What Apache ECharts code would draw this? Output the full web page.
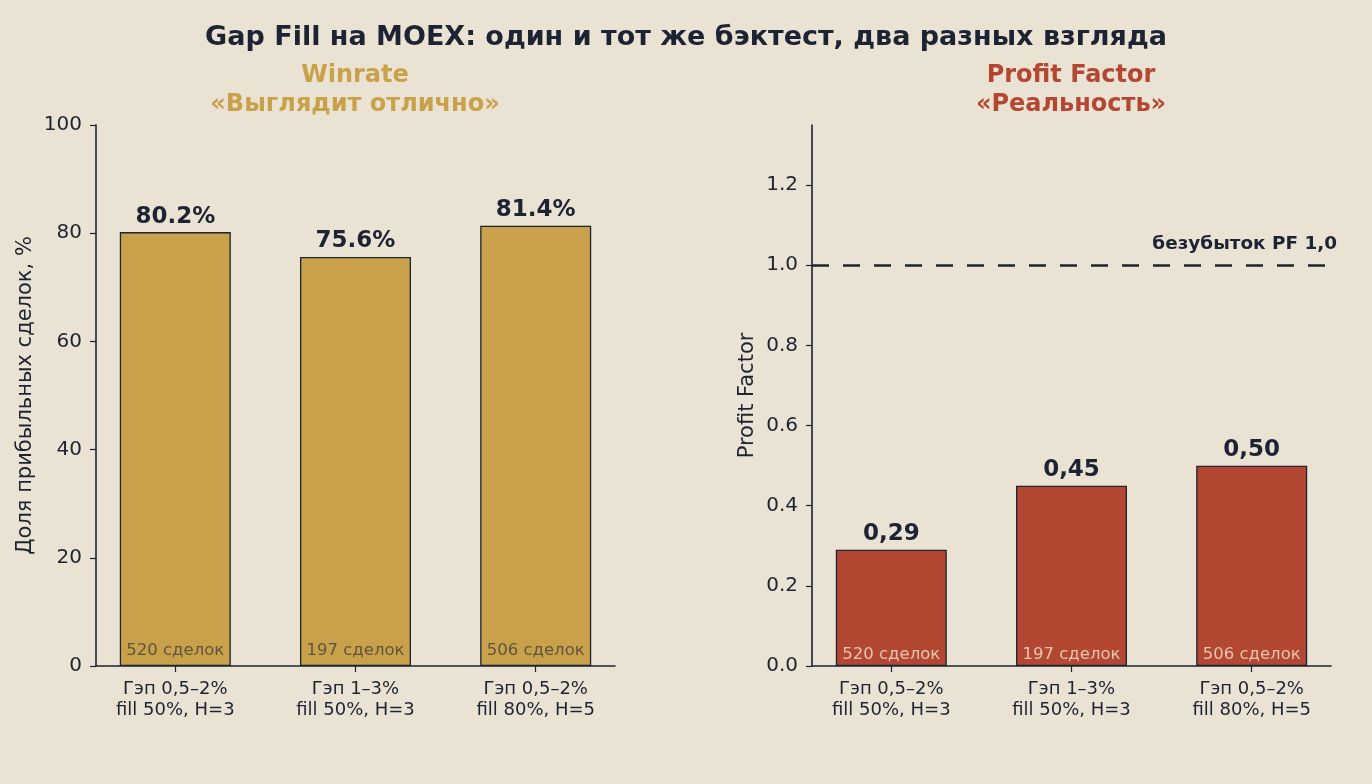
<!DOCTYPE html>
<html><head><meta charset="utf-8">
<script src="https://cdn.jsdelivr.net/npm/echarts@6/dist/echarts.min.js"></script>
<style>html,body{margin:0;padding:0;background:#EAE3D3;}#c{width:1372px;height:784px;}</style>
</head><body><div id="c"></div>
<script>
const categories = ['Гэп 0,5–2%\nfill 50%, H=3', 'Гэп 1–3%\nfill 50%, H=3', 'Гэп 0,5–2%\nfill 80%, H=5'];
const trades = [520, 197, 506];
const winrate = [80.2, 75.6, 81.4];
const profitFactor = [0.29, 0.45, 0.50];
const breakeven = 1.0;
const winrateTicks = [0, 20, 40, 60, 80, 100];
const pfTicks = [0, 0.2, 0.4, 0.6, 0.8, 1.0, 1.2];

const FONT = "'DejaVu Sans', sans-serif";
const DARK = '#1C2333';
const GOLD = '#C9A14A';
const RED = '#B34731';

const pos = categories.map((_, i) => i);

function xAxisFor(gi) {
  return {
    type: 'value', gridIndex: gi, min: -0.44, max: 2.44,
    splitLine: {show: false},
    axisLine: {show: true, onZero: false, lineStyle: {color: DARK, width: 1.6}},
    axisTick: {show: true, customValues: pos, length: 6, lineStyle: {color: DARK, width: 1.2}},
    axisLabel: {customValues: pos, formatter: v => categories[Math.round(v)] || '',
      color: DARK, fontFamily: FONT, fontSize: 18, lineHeight: 21, margin: 13}
  };
}
function yAxisFor(gi, max, ticks, name, gap, fmt) {
  return {
    type: 'value', gridIndex: gi, min: 0, max: max,
    name: name, nameLocation: 'middle', nameGap: gap, nameRotate: 90,
    nameTextStyle: {color: DARK, fontFamily: FONT, fontSize: 21},
    splitLine: {show: false},
    axisLine: {show: true, onZero: false, lineStyle: {color: DARK, width: 1.6}},
    axisTick: {show: true, customValues: ticks, length: 6, lineStyle: {color: DARK, width: 1.2}},
    axisLabel: {customValues: ticks, formatter: fmt, color: DARK, fontFamily: FONT, fontSize: 20, margin: 14,
      padding: [4, 0, 0, 0]}
  };
}

const option = {
  backgroundColor: '#EAE3D3',
  animation: false,
  title: [
    {text: 'Gap Fill на MOEX: один и тот же бэктест, два разных взгляда', left: 'center', top: 19,
      textStyle: {color: DARK, fontFamily: FONT, fontSize: 27, fontWeight: 'bold'}},
    {text: 'Winrate\n«Выглядит отлично»', left: 350, textAlign: 'center', top: 56,
      textStyle: {color: GOLD, fontFamily: FONT, fontSize: 24, fontWeight: 'bold', lineHeight: 29, align: 'center'}},
    {text: 'Profit Factor\n«Реальность»', left: 1066, textAlign: 'center', top: 56,
      textStyle: {color: RED, fontFamily: FONT, fontSize: 24, fontWeight: 'bold', lineHeight: 29, align: 'center'}}
  ],
  grid: [
    {left: 96, right: 757, top: 125, bottom: 118},
    {left: 812, right: 41, top: 125, bottom: 118}
  ],
  xAxis: [xAxisFor(0), xAxisFor(1)],
  yAxis: [
    yAxisFor(0, 100, winrateTicks, 'Доля прибыльных сделок, %', 60, v => String(v)),
    yAxisFor(1, 1.35, pfTicks, 'Profit Factor', 54, v => v.toFixed(1))
  ],
  series: [
    {
      type: 'bar', xAxisIndex: 0, yAxisIndex: 0, barWidth: 111,
      data: winrate.map((v, i) => [i, v]),
      itemStyle: {color: GOLD, borderColor: DARK, borderWidth: 1.3},
      label: {show: true, position: 'top', distance: 4, formatter: p => p.value[1].toFixed(1) + '%',
        color: DARK, fontFamily: FONT, fontSize: 23, fontWeight: 'bold'}
    },
    {
      type: 'scatter', xAxisIndex: 0, yAxisIndex: 0, symbolSize: 0, silent: true,
      data: trades.map((t, i) => [i, 0]),
      label: {show: true, position: 'top', distance: 7, formatter: p => trades[p.dataIndex] + ' сделок',
        color: '#45413A', fontFamily: FONT, fontSize: 16.5}
    },
    {
      type: 'bar', xAxisIndex: 1, yAxisIndex: 1, barWidth: 111,
      data: profitFactor.map((v, i) => [i, v]),
      itemStyle: {color: RED, borderColor: DARK, borderWidth: 1.3},
      label: {show: true, position: 'top', distance: 4, formatter: p => p.value[1].toFixed(2).replace('.', ','),
        color: DARK, fontFamily: FONT, fontSize: 23, fontWeight: 'bold'},
      markLine: {
        silent: true, symbol: 'none',
        lineStyle: {color: DARK, width: 2.6, type: [17, 14]},
        label: {show: true, position: 'insideEndTop', formatter: 'безубыток PF 1,0', distance: [-6, 12],
          color: DARK, fontFamily: FONT, fontSize: 18.4, fontWeight: 'bold'},
        data: [{yAxis: breakeven}]
      }
    },
    {
      type: 'scatter', xAxisIndex: 1, yAxisIndex: 1, symbolSize: 0, silent: true,
      data: trades.map((t, i) => [i, 0]),
      label: {show: true, position: 'top', distance: 3, formatter: p => trades[p.dataIndex] + ' сделок',
        color: '#F0E4D0', fontFamily: FONT, fontSize: 16.5}
    }
  ]
};
echarts.init(document.getElementById('c')).setOption(option);
</script></body></html>
